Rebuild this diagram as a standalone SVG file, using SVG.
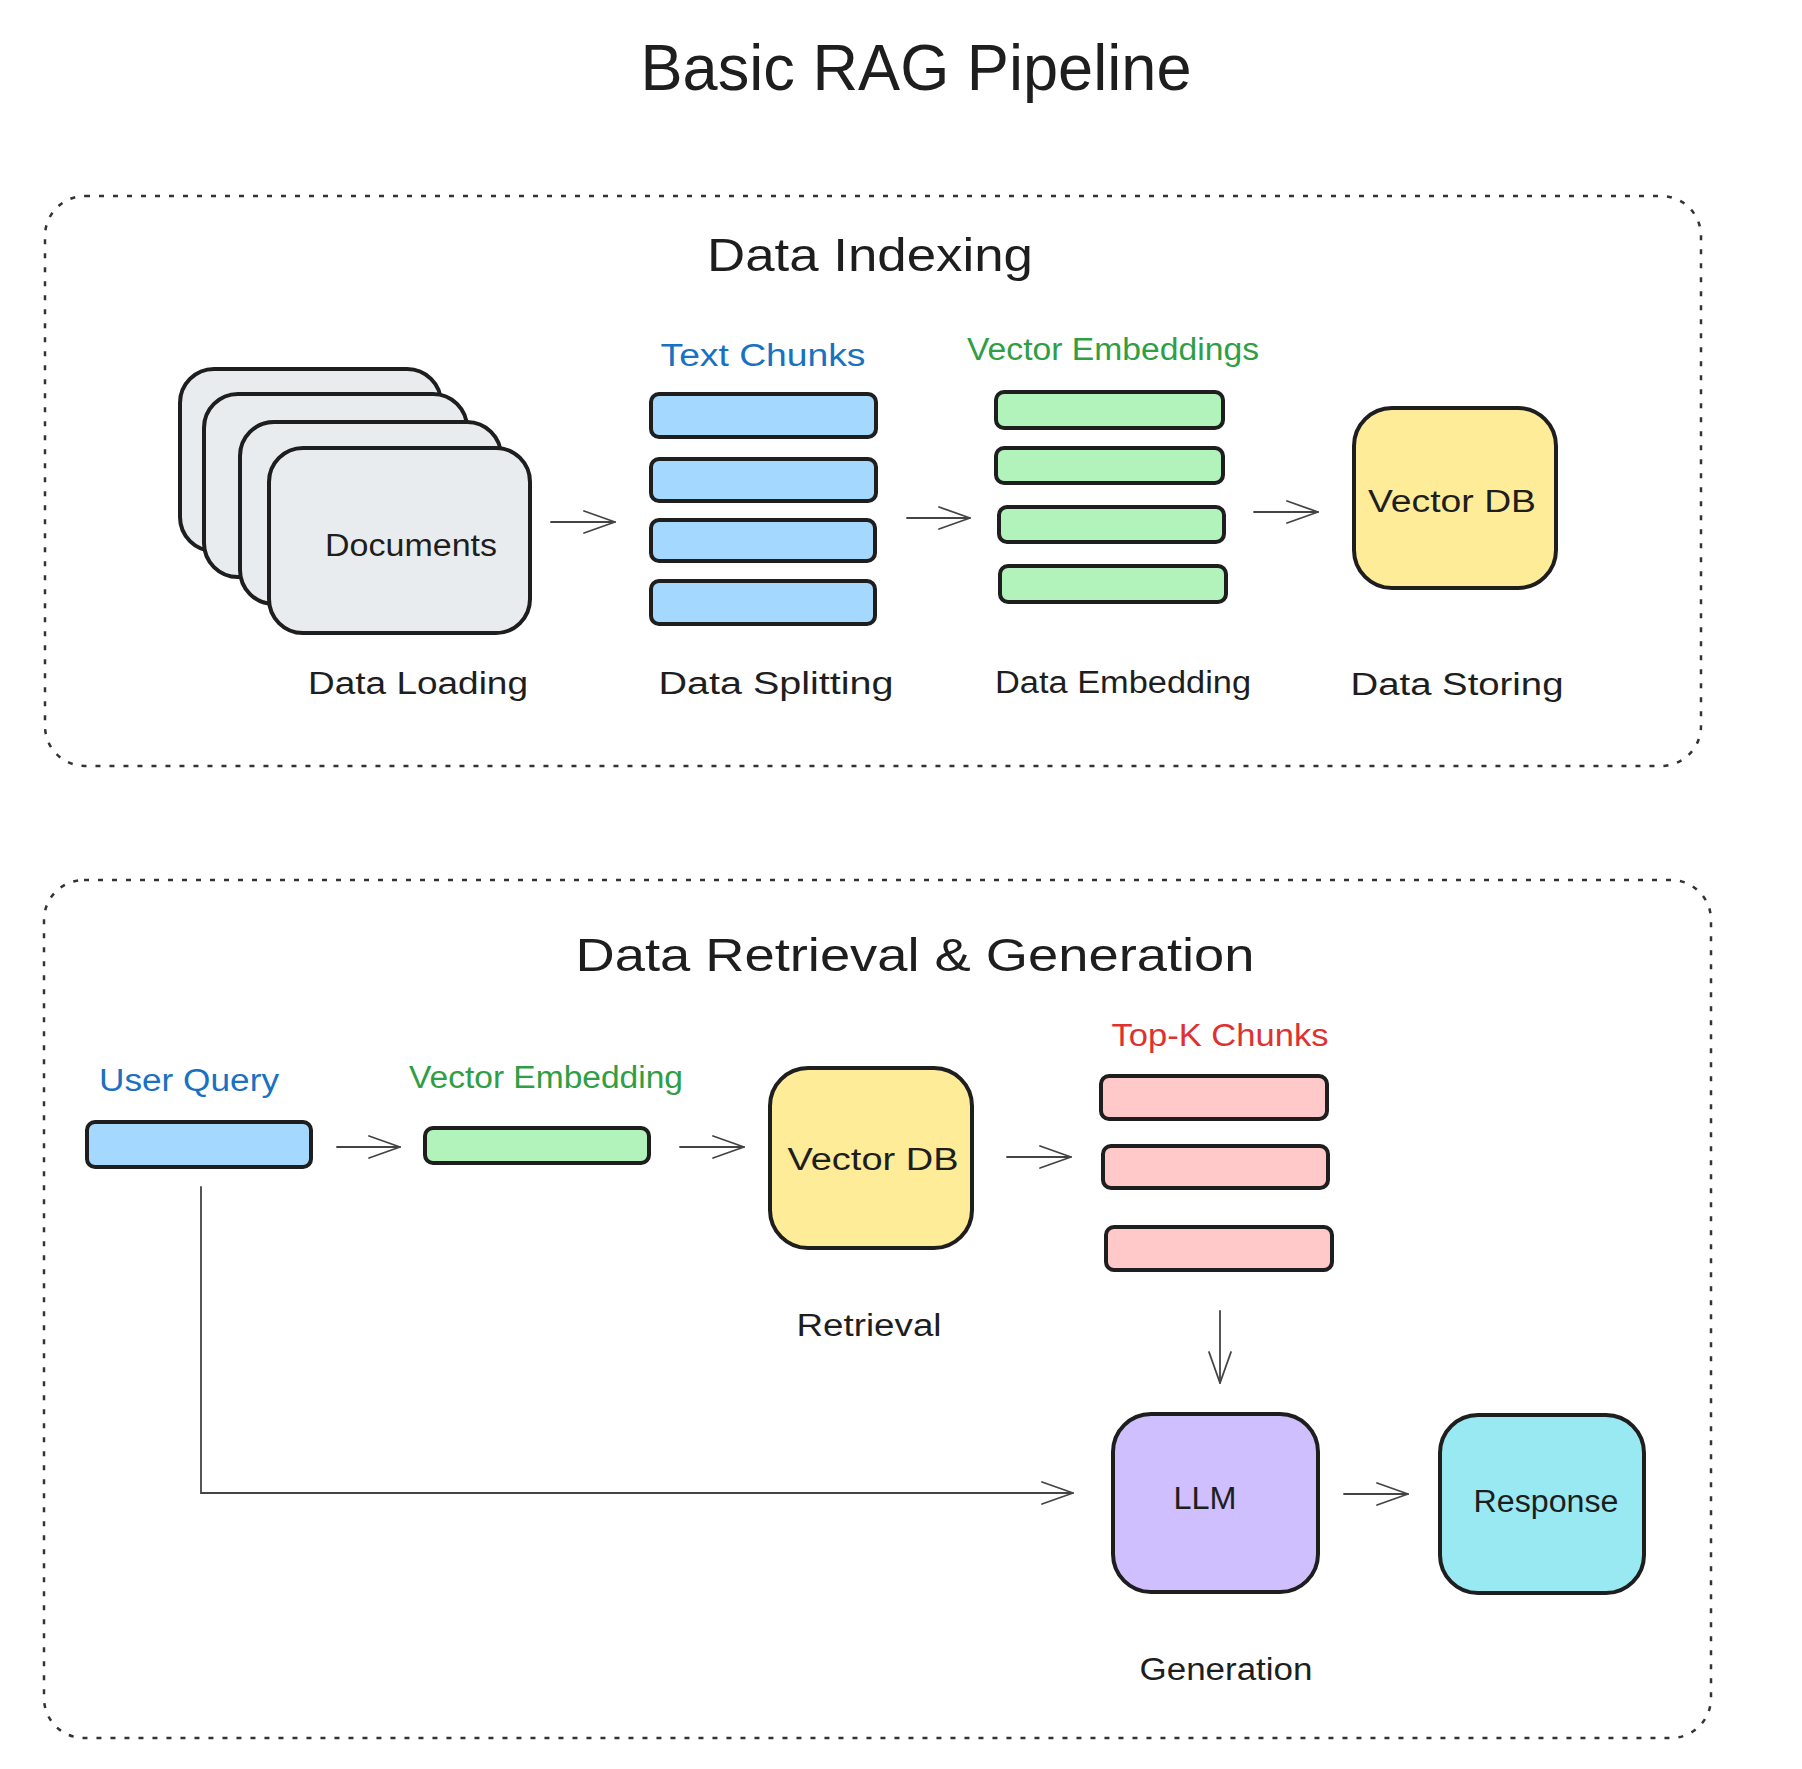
<svg xmlns="http://www.w3.org/2000/svg" width="1802" height="1769" viewBox="0 0 1802 1769">
<defs>
<marker id="ah" markerUnits="userSpaceOnUse" markerWidth="40" markerHeight="30" viewBox="-36 -15 40 30" refX="0" refY="0" orient="auto">
<path d="M-31,-11 L0,0 L-31,11" fill="none" stroke="#444" stroke-width="1.8" stroke-linecap="round" stroke-linejoin="round"/>
</marker>
<style>
.t{font-family:"Liberation Sans",Arial,sans-serif;fill:#1e1e1e;text-anchor:middle}
.lbl{font-size:31px}
.sec{font-size:46px}
.node{stroke:#1e1e1e;stroke-width:4}
.doc{fill:#e9ecef}
.blue{fill:#a5d8ff}
.green{fill:#b2f2bb}
.yellow{fill:#ffec99}
.pink{fill:#ffc9c9}
.purple{fill:#d0bfff}
.cyan{fill:#99e9f2}
.frame{fill:none;stroke:#333;stroke-width:2.5;stroke-dasharray:5 9}
.conn{fill:none;stroke:#444;stroke-width:1.8;stroke-linecap:round}
.tb{fill:#1971c2}
.tg{fill:#2f9e44}
.tr{fill:#e03131}
</style>
</defs>
<rect width="1802" height="1769" fill="#ffffff"/>

<text class="t" x="916" y="90" font-size="64" textLength="551" lengthAdjust="spacingAndGlyphs">Basic RAG Pipeline</text>

<g id="section-indexing">
<rect class="frame" x="45" y="196" width="1656" height="570" rx="40"/>
<text class="t sec" x="870" y="271" textLength="326" lengthAdjust="spacingAndGlyphs">Data Indexing</text>
</g>

<g id="section-retrieval">
<rect class="frame" x="44" y="880" width="1667" height="858" rx="40"/>
<text class="t sec" x="915" y="971" textLength="679" lengthAdjust="spacingAndGlyphs">Data Retrieval &amp; Generation</text>
</g>

<g id="documents">
<rect class="node doc" x="180" y="369" width="261" height="182" rx="34"/>
<rect class="node doc" x="204" y="394" width="263" height="183" rx="34"/>
<rect class="node doc" x="240" y="422" width="261" height="182" rx="34"/>
<rect class="node doc" x="269" y="448" width="261" height="185" rx="34"/>
<text class="t lbl" x="411" y="556" textLength="172" lengthAdjust="spacingAndGlyphs">Documents</text>
<text class="t lbl" x="418" y="694" textLength="220" lengthAdjust="spacingAndGlyphs">Data Loading</text>
</g>

<g id="text-chunks">
<text class="t lbl tb" x="763" y="366" textLength="205" lengthAdjust="spacingAndGlyphs">Text Chunks</text>
<rect class="node blue" x="651" y="394" width="225" height="43" rx="8"/>
<rect class="node blue" x="651" y="459" width="225" height="42" rx="8"/>
<rect class="node blue" x="651" y="520" width="224" height="41" rx="8"/>
<rect class="node blue" x="651" y="581" width="224" height="43" rx="8"/>
<text class="t lbl" x="776" y="694" textLength="235" lengthAdjust="spacingAndGlyphs">Data Splitting</text>
</g>

<g id="vector-embeddings">
<text class="t lbl tg" x="1113" y="360" textLength="292" lengthAdjust="spacingAndGlyphs">Vector Embeddings</text>
<rect class="node green" x="996" y="392" width="227" height="36" rx="8"/>
<rect class="node green" x="996" y="448" width="227" height="35" rx="8"/>
<rect class="node green" x="999" y="507" width="225" height="35" rx="8"/>
<rect class="node green" x="1000" y="566" width="226" height="36" rx="8"/>
<text class="t lbl" x="1123" y="693" textLength="256" lengthAdjust="spacingAndGlyphs">Data Embedding</text>
</g>

<g id="vector-db-index">
<rect class="node yellow" x="1354" y="408" width="202" height="180" rx="38"/>
<text class="t lbl" x="1452" y="512" textLength="168" lengthAdjust="spacingAndGlyphs">Vector DB</text>
<text class="t lbl" x="1457" y="695" textLength="213" lengthAdjust="spacingAndGlyphs">Data Storing</text>
</g>

<g id="user-query">
<text class="t lbl tb" x="189" y="1091" textLength="180" lengthAdjust="spacingAndGlyphs">User Query</text>
<rect class="node blue" x="87" y="1122" width="224" height="45" rx="8"/>
</g>

<g id="query-embedding">
<text class="t lbl tg" x="546" y="1088" textLength="274" lengthAdjust="spacingAndGlyphs">Vector Embedding</text>
<rect class="node green" x="425" y="1128" width="224" height="35" rx="8"/>
</g>

<g id="vector-db-retrieval">
<rect class="node yellow" x="770" y="1068" width="202" height="180" rx="38"/>
<text class="t lbl" x="873" y="1170" textLength="171" lengthAdjust="spacingAndGlyphs">Vector DB</text>
<text class="t lbl" x="869" y="1336" textLength="145" lengthAdjust="spacingAndGlyphs">Retrieval</text>
</g>

<g id="top-k-chunks">
<text class="t lbl tr" x="1220" y="1046" textLength="217" lengthAdjust="spacingAndGlyphs">Top-K Chunks</text>
<rect class="node pink" x="1101" y="1076" width="226" height="43" rx="8"/>
<rect class="node pink" x="1103" y="1146" width="225" height="42" rx="8"/>
<rect class="node pink" x="1106" y="1227" width="226" height="43" rx="8"/>
</g>

<g id="llm">
<rect class="node purple" x="1113" y="1414" width="205" height="178" rx="38"/>
<text class="t lbl" x="1205" y="1509" textLength="63" lengthAdjust="spacingAndGlyphs">LLM</text>
<text class="t lbl" x="1226" y="1680" textLength="173" lengthAdjust="spacingAndGlyphs">Generation</text>
</g>

<g id="response">
<rect class="node cyan" x="1440" y="1415" width="204" height="178" rx="38"/>
<text class="t lbl" x="1546" y="1512" textLength="145" lengthAdjust="spacingAndGlyphs">Response</text>
</g>

<g id="connectors">
<path class="conn" d="M551,522 L615,522" marker-end="url(#ah)"/>
<path class="conn" d="M907,518 L970,518" marker-end="url(#ah)"/>
<path class="conn" d="M1254,512 L1318,512" marker-end="url(#ah)"/>
<path class="conn" d="M337,1147 L400,1147" marker-end="url(#ah)"/>
<path class="conn" d="M680,1147 L744,1147" marker-end="url(#ah)"/>
<path class="conn" d="M1007,1157 L1071,1157" marker-end="url(#ah)"/>
<path class="conn" d="M1220,1311 L1220,1383" marker-end="url(#ah)"/>
<path class="conn" d="M1344,1494 L1408,1494" marker-end="url(#ah)"/>
<path class="conn" d="M201,1187 L201,1493 L1073,1493" marker-end="url(#ah)"/>
</g>
</svg>
